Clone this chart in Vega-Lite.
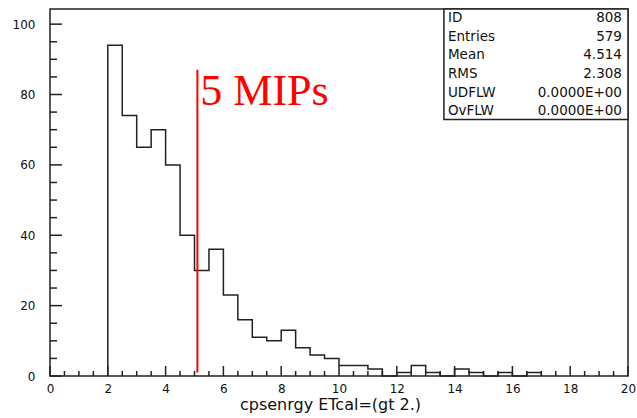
{
  "$schema": "https://vega.github.io/schema/vega-lite/v6.json",
  "width": 578,
  "height": 367,
  "autosize": "none",
  "padding": {"left": 50, "top": 9, "right": 9, "bottom": 42},
  "background": "white",
  "datasets": {
    "xticks": [
      {"t": 0, "major": true}, {"t": 0.5, "major": false}, {"t": 1, "major": false}, {"t": 1.5, "major": false},
      {"t": 2, "major": true}, {"t": 2.5, "major": false}, {"t": 3, "major": false}, {"t": 3.5, "major": false},
      {"t": 4, "major": true}, {"t": 4.5, "major": false}, {"t": 5, "major": false}, {"t": 5.5, "major": false},
      {"t": 6, "major": true}, {"t": 6.5, "major": false}, {"t": 7, "major": false}, {"t": 7.5, "major": false},
      {"t": 8, "major": true}, {"t": 8.5, "major": false}, {"t": 9, "major": false}, {"t": 9.5, "major": false},
      {"t": 10, "major": true}, {"t": 10.5, "major": false}, {"t": 11, "major": false}, {"t": 11.5, "major": false},
      {"t": 12, "major": true}, {"t": 12.5, "major": false}, {"t": 13, "major": false}, {"t": 13.5, "major": false},
      {"t": 14, "major": true}, {"t": 14.5, "major": false}, {"t": 15, "major": false}, {"t": 15.5, "major": false},
      {"t": 16, "major": true}, {"t": 16.5, "major": false}, {"t": 17, "major": false}, {"t": 17.5, "major": false},
      {"t": 18, "major": true}, {"t": 18.5, "major": false}, {"t": 19, "major": false}, {"t": 19.5, "major": false},
      {"t": 20, "major": true}
    ],
    "yticks": [
      {"t": 0, "major": true}, {"t": 5, "major": false}, {"t": 10, "major": false}, {"t": 15, "major": false},
      {"t": 20, "major": true}, {"t": 25, "major": false}, {"t": 30, "major": false}, {"t": 35, "major": false},
      {"t": 40, "major": true}, {"t": 45, "major": false}, {"t": 50, "major": false}, {"t": 55, "major": false},
      {"t": 60, "major": true}, {"t": 65, "major": false}, {"t": 70, "major": false}, {"t": 75, "major": false},
      {"t": 80, "major": true}, {"t": 85, "major": false}, {"t": 90, "major": false}, {"t": 95, "major": false},
      {"t": 100, "major": true}
    ]
  },
  "config": {
    "view": {"stroke": "#222", "strokeWidth": 1.5},
    "axis": {
      "domain": false,
      "grid": false,
      "ticks": false,
      "labelFont": "DejaVu Sans",
      "labelFontSize": 12,
      "labelColor": "#111",
      "titleFont": "DejaVu Sans",
      "titleFontSize": 16,
      "titleFontWeight": "normal",
      "titleColor": "#111"
    }
  },
  "layer": [
    {
      "data": {"values": [
        {"i": 0, "x": 2, "n": 0},
        {"i": 1, "x": 2, "n": 94},
        {"i": 2, "x": 2.5, "n": 74},
        {"i": 3, "x": 3, "n": 65},
        {"i": 4, "x": 3.5, "n": 70},
        {"i": 5, "x": 4, "n": 60},
        {"i": 6, "x": 4.5, "n": 40},
        {"i": 7, "x": 5, "n": 30},
        {"i": 8, "x": 5.5, "n": 36},
        {"i": 9, "x": 6, "n": 23},
        {"i": 10, "x": 6.5, "n": 16},
        {"i": 11, "x": 7, "n": 11},
        {"i": 12, "x": 7.5, "n": 10},
        {"i": 13, "x": 8, "n": 13},
        {"i": 14, "x": 8.5, "n": 8},
        {"i": 15, "x": 9, "n": 6},
        {"i": 16, "x": 9.5, "n": 5},
        {"i": 17, "x": 10, "n": 3},
        {"i": 18, "x": 10.5, "n": 3},
        {"i": 19, "x": 11, "n": 2},
        {"i": 20, "x": 11.5, "n": 0},
        {"i": 21, "x": 12, "n": 1},
        {"i": 22, "x": 12.5, "n": 3},
        {"i": 23, "x": 13, "n": 1},
        {"i": 24, "x": 13.5, "n": 0},
        {"i": 25, "x": 14, "n": 2},
        {"i": 26, "x": 14.5, "n": 1},
        {"i": 27, "x": 15, "n": 0},
        {"i": 28, "x": 15.5, "n": 1},
        {"i": 29, "x": 16, "n": 0},
        {"i": 30, "x": 16.5, "n": 1},
        {"i": 31, "x": 17, "n": 0}
      ]},
      "mark": {"type": "line", "interpolate": "step-after", "color": "#222", "strokeWidth": 1.5},
      "encoding": {
        "x": {"field": "x", "type": "quantitative",
          "scale": {"domain": [0, 20], "nice": false, "zero": false},
          "axis": {"orient": "bottom", "values": [0, 2, 4, 6, 8, 10, 12, 14, 16, 18, 20], "labelPadding": 7,
            "labelFlush": false, "labelOverlap": false, "title": "cpsenrgy ETcal=(gt 2.)", "titlePadding": 2, "titleX": 280}},
        "y": {"field": "n", "type": "quantitative",
          "scale": {"domain": [0, 104.3], "nice": false},
          "axis": {"orient": "left", "values": [0, 20, 40, 60, 80, 100], "labelPadding": 15, "title": null}},
        "order": {"field": "i"}
      }
    },
    {
      "data": {"name": "xticks"},
      "transform": [{"filter": "datum.major"}],
      "mark": {"type": "rule", "color": "#222", "strokeWidth": 1.5},
      "encoding": {
        "x": {"field": "t", "type": "quantitative", "axis": null},
        "y": {"datum": 0, "type": "quantitative", "axis": null, "scale": {"domain": [0, 104.3], "nice": false}},
        "y2": {"datum": 2.84}
      }
    },
    {
      "data": {"name": "xticks"},
      "transform": [{"filter": "!datum.major"}],
      "mark": {"type": "rule", "color": "#222", "strokeWidth": 1.5},
      "encoding": {
        "x": {"field": "t", "type": "quantitative", "axis": null},
        "y": {"datum": 0, "type": "quantitative", "axis": null, "scale": {"domain": [0, 104.3], "nice": false}},
        "y2": {"datum": 1.42}
      }
    },
    {
      "data": {"name": "yticks"},
      "transform": [{"filter": "datum.major"}],
      "mark": {"type": "rule", "color": "#222", "strokeWidth": 1.5},
      "encoding": {
        "y": {"field": "t", "type": "quantitative", "axis": null, "scale": {"domain": [0, 104.3], "nice": false}},
        "x": {"datum": 0, "type": "quantitative", "axis": null},
        "x2": {"datum": 0.415}
      }
    },
    {
      "data": {"name": "yticks"},
      "transform": [{"filter": "!datum.major"}],
      "mark": {"type": "rule", "color": "#222", "strokeWidth": 1.5},
      "encoding": {
        "y": {"field": "t", "type": "quantitative", "axis": null, "scale": {"domain": [0, 104.3], "nice": false}},
        "x": {"datum": 0, "type": "quantitative", "axis": null},
        "x2": {"datum": 0.242}
      }
    },
    {
      "data": {"values": [{"label": "5 MIPs", "mip": 5.1}]},
      "mark": {"type": "rule", "color": "#ff0000", "strokeWidth": 2},
      "encoding": {
        "x": {"field": "mip", "type": "quantitative", "axis": null},
        "y": {"datum": 1, "type": "quantitative", "axis": null,
          "scale": {"domain": [0, 104.3], "nice": false}},
        "y2": {"datum": 87}
      }
    },
    {
      "data": {"values": [{"label": "5 MIPs", "mip": 5.1}]},
      "mark": {"type": "text", "color": "#ff0000", "font": "Liberation Serif", "fontSize": 44, "align": "left", "baseline": "alphabetic"},
      "encoding": {
        "x": {"datum": 5.2, "type": "quantitative", "axis": null},
        "y": {"datum": 77, "type": "quantitative", "axis": null,
          "scale": {"domain": [0, 104.3], "nice": false}},
        "text": {"field": "label"}
      }
    },
    {
      "data": {"values": [{"box": "stats"}]},
      "mark": {"type": "rect", "fill": "white", "stroke": "#222", "strokeWidth": 1.5},
      "encoding": {
        "x": {"datum": 13.63, "type": "quantitative", "axis": null},
        "x2": {"datum": 20},
        "y": {"datum": 72.9, "type": "quantitative", "axis": null,
          "scale": {"domain": [0, 104.3], "nice": false}},
        "y2": {"datum": 104.3}
      }
    },
    {
      "data": {"values": [
        {"row": 1, "stat": "ID", "value": "808"},
        {"row": 2, "stat": "Entries", "value": "579"},
        {"row": 3, "stat": "Mean", "value": "4.514"},
        {"row": 4, "stat": "RMS", "value": "2.308"},
        {"row": 5, "stat": "UDFLW", "value": "0.0000E+00"},
        {"row": 6, "stat": "OvFLW", "value": "0.0000E+00"}
      ]},
      "mark": {"type": "text", "align": "left", "baseline": "middle", "font": "DejaVu Sans", "fontSize": 13.5, "color": "#111"},
      "encoding": {
        "x": {"datum": 13.77, "type": "quantitative", "axis": null},
        "y": {"field": "row", "type": "quantitative", "axis": null,
          "scale": {"domain": [0.519, 20.15], "reverse": true, "nice": false, "zero": false}},
        "text": {"field": "stat"}
      }
    },
    {
      "data": {"values": [
        {"row": 1, "stat": "ID", "value": "808"},
        {"row": 2, "stat": "Entries", "value": "579"},
        {"row": 3, "stat": "Mean", "value": "4.514"},
        {"row": 4, "stat": "RMS", "value": "2.308"},
        {"row": 5, "stat": "UDFLW", "value": "0.0000E+00"},
        {"row": 6, "stat": "OvFLW", "value": "0.0000E+00"}
      ]},
      "mark": {"type": "text", "align": "right", "baseline": "middle", "font": "DejaVu Sans", "fontSize": 13.5, "color": "#111"},
      "encoding": {
        "x": {"datum": 19.79, "type": "quantitative", "axis": null},
        "y": {"field": "row", "type": "quantitative", "axis": null,
          "scale": {"domain": [0.519, 20.15], "reverse": true, "nice": false, "zero": false}},
        "text": {"field": "value"}
      }
    }
  ],
  "resolve": {"scale": {"y": "independent"}, "axis": {"x": "independent", "y": "independent"}}
}
